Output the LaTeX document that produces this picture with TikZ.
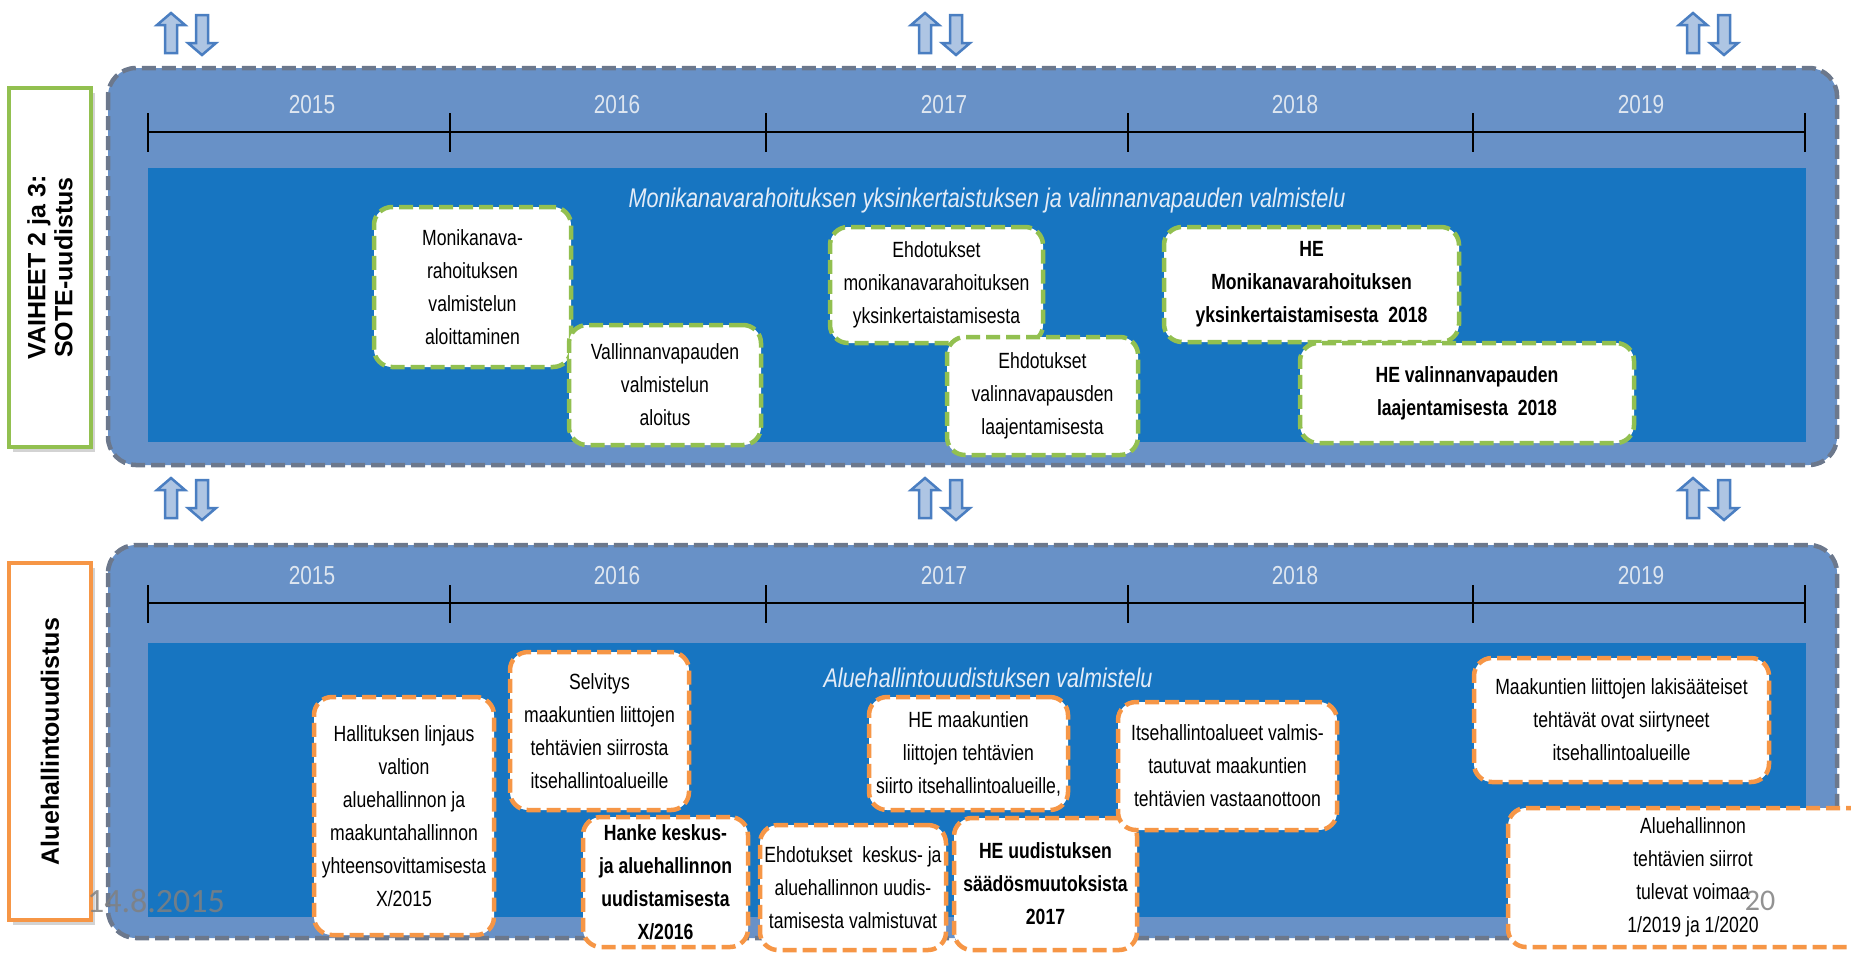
\documentclass[tikz,border=0pt]{standalone}
\usepackage{fontspec}
\setmainfont{Liberation Sans}
\newfontfamily\narrowfont[FakeStretch=0.8]{Liberation Sans}
\newfontfamily\datefont{Carlito}
\usetikzlibrary{shadows}
\definecolor{panelblue}{RGB}{104,145,199}
\definecolor{innerblue}{RGB}{23,117,193}
\definecolor{dashgray}{RGB}{108,120,140}
\definecolor{sotegreen}{RGB}{146,192,80}
\definecolor{aluorange}{RGB}{246,150,70}
\definecolor{arrowblue}{RGB}{74,126,193}
\definecolor{yeargray}{RGB}{222,230,240}
\definecolor{phasewhite}{RGB}{228,236,247}

\begin{document}
\begin{tikzpicture}[x=1pt,y=-1pt]
   \tikzstyle{panel} = [draw=dashgray, fill=panelblue, line width=4.5pt, dash pattern=on 14pt off 6pt, rounded corners=28pt]
   \tikzstyle{inner} = [fill=innerblue]
   \tikzstyle{tline} = [draw=black, line width=2.5pt]
   \tikzstyle{year} = [text=yeargray, font=\narrowfont\fontsize{26}{30}\selectfont]
   \tikzstyle{phase} = [text=phasewhite, font=\narrowfont\itshape\fontsize{27}{32}\selectfont]
   \tikzstyle{card} = [draw, fill=white, line width=4.5pt, dash pattern=on 14pt off 6pt, rounded corners=18pt, align=center, inner sep=2pt, font=\narrowfont\fontsize{22}{33}\selectfont]
   \tikzstyle{bcard} = [card, font=\narrowfont\bfseries\fontsize{22}{33}\selectfont]
   \tikzstyle{lbl} = [fill=white, line width=4.5pt, drop shadow={shadow xshift=4pt, shadow yshift=-5pt, opacity=0.35}]
   \tikzstyle{lbltext} = [rotate=90, align=center, font=\bfseries\fontsize{25}{27}\selectfont]
   \tikzstyle{arr} = [draw=arrowblue, fill=white!55!arrowblue, line width=2.5pt, line join=miter]

   \useasboundingbox (0,0) rectangle (1851,954);

   % panels
   \draw[panel] (108,68) rectangle (1837,465);
   \draw[panel] (108,545) rectangle (1837,938);
   \fill[inner] (148,168) rectangle (1806,442);
   \fill[inner] (148,643) rectangle (1806,917);

   % timelines
   \draw[tline] (148,132) -- (1805,132);
   \draw[tline] (148,603) -- (1805,603);
   \foreach \tx in {148,450,766,1128,1473,1805} {
      \draw[tline] (\tx,113) -- (\tx,152);
      \draw[tline] (\tx,585) -- (\tx,623);
   }
   \foreach \yx/\yr in {312/2015,617/2016,944/2017,1295/2018,1641/2019} {
      \node[year] at (\yx,105) {\yr};
      \node[year] at (\yx,576) {\yr};
   }

   \node[phase] (sotephase) at (987,201) {Monikanavarahoituksen yksinkertaistuksen ja valinnanvapauden valmistelu};
   \node[phase] (aluephase) at (988,678) {Aluehallintouudistuksen valmistelu};

   % SOTE cards
   \node[card, draw=sotegreen, minimum width=197, minimum height=160] (monaloit) at (472.5,287) {Monikanava-\\rahoituksen\\valmistelun\\aloittaminen};
   \node[card, draw=sotegreen, minimum width=192, minimum height=120] (valaloit) at (665,385) {Vallinnanvapauden\\valmistelun\\aloitus};
   \node[card, draw=sotegreen, minimum width=213, minimum height=116] (ehdmon) at (936.5,285) {Ehdotukset\\monikanavarahoituksen\\yksinkertaistamisesta};
   \node[card, draw=sotegreen, minimum width=191, minimum height=118] (ehdval) at (1042.5,396) {Ehdotukset\\valinnavapausden\\laajentamisesta};
   \node[bcard, draw=sotegreen, minimum width=295, minimum height=115] (hemon) at (1311.5,284.5) {HE\\Monikanavarahoituksen\\yksinkertaistamisesta~~2018};
   \node[bcard, draw=sotegreen, minimum width=334, minimum height=100] (heval) at (1467,393) {HE valinnanvapauden\\laajentamisesta~~2018};

   % Aluehallinto cards
   \node[card, draw=aluorange, minimum width=180, minimum height=238] (hallitus) at (404,816) {Hallituksen linjaus\\valtion\\aluehallinnon ja\\maakuntahallinnon\\yhteensovittamisesta\\X/2015};
   \node[card, draw=aluorange, minimum width=179, minimum height=158] (selvitys) at (599.5,731) {Selvitys\\maakuntien liittojen\\tehtävien siirrosta\\itsehallintoalueille};
   \node[bcard, draw=aluorange, minimum width=165, minimum height=130] (hanke) at (665.5,882) {Hanke keskus-\\ja aluehallinnon\\uudistamisesta\\X/2016};
   \node[card, draw=aluorange, minimum width=186, minimum height=125] (ehdkesk) at (853,887.5) {Ehdotukset~~keskus- ja\\aluehallinnon uudis-\\tamisesta valmistuvat};
   \node[bcard, draw=aluorange, minimum width=183, minimum height=132] (heuud) at (1045.5,884) {HE uudistuksen\\säädösmuutoksista\\2017};
   \node[card, draw=aluorange, minimum width=199, minimum height=113] (hemaak) at (968.5,753.5) {HE maakuntien\\liittojen tehtävien\\siirto itsehallintoalueille,};
   \node[card, draw=aluorange, minimum width=219, minimum height=128] (itseh) at (1227.5,766) {Itsehallintoalueet valmis-\\tautuvat maakuntien\\tehtävien vastaanottoon};
   \node[card, draw=aluorange, minimum width=295, minimum height=124] (maak) at (1621.5,720) {Maakuntien liittojen lakisääteiset\\tehtävät ovat siirtyneet\\itsehallintoalueille};
   \node[card, draw=aluorange, minimum width=370, minimum height=139] (aluesiir) at (1693,877.5) {Aluehallinnon\\tehtävien siirrot\\tulevat voimaa\\1/2019 ja 1/2020};

   % side labels
   \node[lbl, draw=sotegreen, minimum width=82, minimum height=359] (sotelbl) at (50,267.5) {};
   \node[lbltext] (sotetext) at (sotelbl) {VAIHEET 2 ja 3:\\SOTE-uudistus};
   \node[lbl, draw=aluorange, minimum width=82, minimum height=357] (alulbl) at (50,741.5) {};
   \node[lbltext] (alutext) at (alulbl) {Aluehallintouudistus};

   % up/down arrows
   \foreach \ax/\ay in {171/13,925/13,1693/13,171/478,925/478,1693/478} {
      \draw[arr] (\ax,\ay) -- ++(14,12) -- ++(-8,0) -- ++(0,28) -- ++(-12,0) -- ++(0,-28) -- ++(-8,0) -- cycle;
      \draw[arr] (\ax+31,\ay+42) -- ++(14,-12) -- ++(-8,0) -- ++(0,-28) -- ++(-12,0) -- ++(0,28) -- ++(-8,0) -- cycle;
   }

   \node[anchor=base, text=gray, opacity=0.85, font=\datefont\fontsize{34}{38}\selectfont] (pvm) at (156,912) {14.8.2015};
   \node[anchor=base, text=gray, opacity=0.85, font=\datefont\fontsize{30}{34}\selectfont] (sivu) at (1760,910) {20};
\end{tikzpicture}
\end{document}
